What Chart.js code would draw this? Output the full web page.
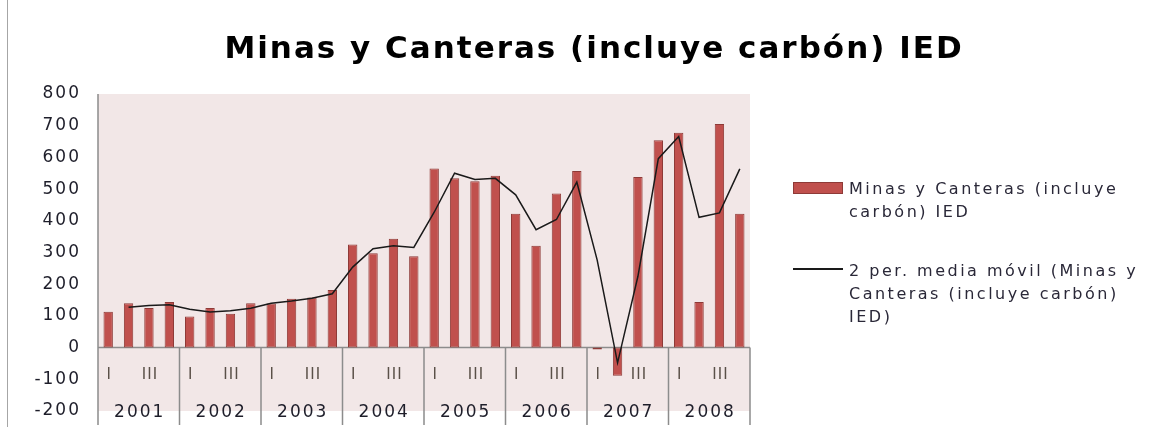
<!DOCTYPE html>
<html lang="es">
<head>
    <meta charset="UTF-8">
    <title>Minas y Canteras (incluye carbón) IED</title>
    <script src="https://cdn.jsdelivr.net/npm/chart.js"></script>
    <style>
        body {
            margin: 0;
            background: #fff;
            font-family: 'DejaVu Sans', sans-serif;
        }
        .wrap {
            position: relative;
            width: 1167px;
            height: 427px;
            overflow: hidden;
        }
        canvas {
            display: block;
        }
        .frame {
            position: absolute;
            left: 7px;
            top: 0;
            width: 1px;
            height: 427px;
            background: #a6a6a6;
        }
        .swatch-bar {
            position: absolute;
            left: 793px;
            top: 182px;
            width: 48px;
            height: 10px;
            background: #c0504d;
            border: 1px solid #8e3a37;
        }
        .swatch-line {
            position: absolute;
            left: 793px;
            top: 268px;
            width: 50px;
            height: 1.5px;
            background: #1a1a1a;
        }
        .legend-text {
            position: absolute;
            left: 849px;
            font-size: 16px;
            line-height: 23px;
            letter-spacing: 2.5px;
            color: #2a2838;
            white-space: nowrap;
        }
    </style>
</head>
<body>
    <div class="wrap">
        <canvas id="chart" width="1167" height="427"></canvas>
        <div class="frame"></div>
        <div class="swatch-bar"></div>
        <div class="legend-text" style="top:177px">Minas y Canteras (incluye<br>carbón) IED</div>
        <div class="swatch-line"></div>
        <div class="legend-text" style="top:259px">2 per. media móvil (Minas y<br>Canteras (incluye carbón)<br>IED)</div>
    </div>

    <script>
        const titleText = 'Minas y Canteras (incluye carbón) IED';
        const years = ['2001', '2002', '2003', '2004', '2005', '2006', '2007', '2008'];
        const quarters = ['I', 'II', 'III', 'IV'];

        // IED trimestral
        const ied = [113, 140, 125, 144, 98, 125, 107, 140,
                     139, 154, 158, 182, 325, 298, 343, 288,
                     565, 534, 525, 542, 422, 321, 486, 557,
                     -6, -89, 538, 654, 678, 144, 705, 422];

        // media móvil de 2 periodos
        const mediaMovil = [null, 127, 133, 135, 121, 112, 116, 124,
                            140, 147, 156, 170, 254, 312, 321, 316,
                            427, 550, 530, 534, 482, 372, 404, 522,
                            276, -48, 225, 596, 666, 411, 425, 564];

        const yTicks = { min: -200, max: 800, step: 100 };

        const labels = [];
        years.forEach(yr => quarters.forEach(q => labels.push(yr + ' ' + q)));

        const decor = {
            id: 'decor',
            beforeDraw(chart) {
                const { ctx, chartArea: a } = chart;
                ctx.save();
                ctx.fillStyle = '#f2e7e7';
                ctx.fillRect(a.left, a.top, a.right - a.left, a.bottom - a.top);
                ctx.fillStyle = '#000';
                ctx.font = 'bold 31px "DejaVu Sans"';
                ctx.letterSpacing = '2px';
                ctx.textAlign = 'center';
                ctx.textBaseline = 'middle';
                ctx.fillText(titleText, 594, 50);
                ctx.restore();
                // wider look for tick labels
                ctx.letterSpacing = '2px';
            },
            beforeDatasetsDraw(chart) {
                const { ctx, chartArea: a, scales: { x, y } } = chart;
                const y0 = y.getPixelForValue(0);
                ctx.save();
                ctx.strokeStyle = '#8c8c8c';
                ctx.lineWidth = 1.5;
                ctx.beginPath();
                ctx.moveTo(a.left, a.top);
                ctx.lineTo(a.left, 425);
                ctx.moveTo(a.left, y0);
                ctx.lineTo(a.right, y0);
                years.forEach((yr, i) => {
                    const last = (i + 1) * quarters.length - 1;
                    const edge = i === years.length - 1 ? a.right
                        : (x.getPixelForValue(last) + x.getPixelForValue(last + 1)) / 2;
                    ctx.moveTo(edge, y0);
                    ctx.lineTo(edge, 425);
                });
                ctx.stroke();
                ctx.restore();
            },
            afterDraw(chart) {
                const { ctx, scales: { x, y } } = chart;
                const y0 = y.getPixelForValue(0);
                ctx.save();
                ctx.textAlign = 'center';
                ctx.textBaseline = 'middle';
                years.forEach((yr, i) => {
                    ctx.font = '15px "DejaVu Sans"';
                    ctx.fillStyle = '#5a5048';
                    ctx.letterSpacing = '1px';
                    quarters.forEach((q, j) => {
                        if (j % 2 !== 0) return; // Excel skips every other label
                        ctx.fillText(q, x.getPixelForValue(i * 4 + j) + 1, y0 + 28);
                    });
                    const first = x.getPixelForValue(i * 4);
                    const last = x.getPixelForValue(i * 4 + 3);
                    ctx.font = '17px "DejaVu Sans"';
                    ctx.fillStyle = '#1e1e2a';
                    ctx.letterSpacing = '2px';
                    ctx.fillText(yr, (first + last) / 2 + 1, y0 + 65);
                });
                ctx.restore();
            }
        };

        Chart.defaults.font.family = '"DejaVu Sans", sans-serif';

        const ctx = document.getElementById('chart').getContext('2d');
        const chart = new Chart(ctx, {
            type: 'bar',
            data: {
                labels: labels,
                datasets: [{
                    type: 'bar',
                    label: 'Minas y Canteras (incluye carbón) IED',
                    data: ied,
                    backgroundColor: '#c0504d',
                    borderColor: '#8e3a37',
                    borderWidth: 1,
                    borderSkipped: false,
                    categoryPercentage: 1,
                    barPercentage: 0.46,
                    order: 2
                }, {
                    type: 'line',
                    label: '2 per. media móvil (Minas y Canteras (incluye carbón) IED)',
                    data: mediaMovil,
                    borderColor: '#1a1a1a',
                    borderWidth: 1.5,
                    pointRadius: 0,
                    tension: 0,
                    fill: false,
                    order: 1
                }]
            },
            options: {
                responsive: false,
                animation: false,
                layout: {
                    padding: { left: 0, top: 94, right: 417, bottom: 16 }
                },
                plugins: {
                    legend: { display: false },
                    tooltip: { enabled: false }
                },
                scales: {
                    x: {
                        display: false
                    },
                    y: {
                        min: yTicks.min,
                        max: yTicks.max,
                        // tick marks not drawn, their length only sets the label gap
                        grid: { display: false, drawTicks: true, tickLength: 17 },
                        border: { display: false },
                        ticks: {
                            stepSize: yTicks.step,
                            padding: 0,
                            color: '#1e1e2a',
                            font: { size: 17 }
                        },
                        afterFit(scale) {
                            scale.width = 98;
                        }
                    }
                }
            },
            plugins: [decor]
        });
    </script>
</body>
</html>
